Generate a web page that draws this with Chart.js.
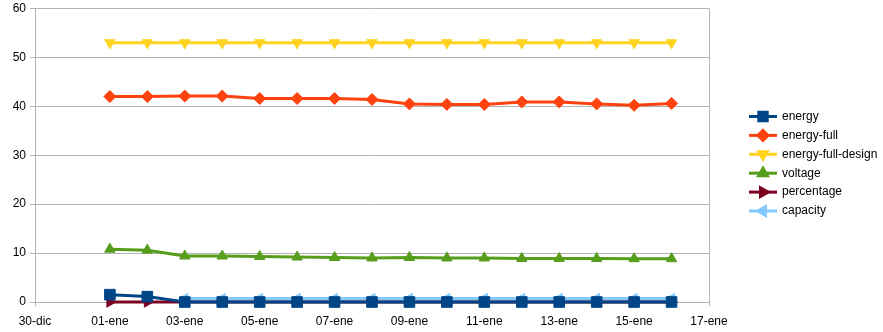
<!DOCTYPE html>
<html>
<head>
<meta charset="utf-8">
<script src="https://cdn.jsdelivr.net/npm/chart.js@4/dist/chart.umd.min.js"></script>
<style>
html,body{margin:0;padding:0;background:#fff;}
#wrap{position:relative;width:883px;height:332px;}
</style>
</head>
<body>
<div id="wrap"><canvas id="c" width="883" height="332"></canvas></div>
<script>
// x positions are day offsets from 30-dic
const tickLabels = ['30-dic','01-ene','03-ene','05-ene','07-ene','09-ene','11-ene','13-ene','15-ene','17-ene'];
const days = [2,3,4,5,6,7,8,9,10,11,12,13,14,15,16,17];
const energy = [1.5,1.1,0,0,0,0,0,0,0,0,0,0,0,0,0,0];
const energyFull = [42.0,42.0,42.1,42.1,41.6,41.6,41.6,41.4,40.5,40.4,40.4,40.9,40.9,40.5,40.2,40.6];
const energyFullDesign = [53,53,53,53,53,53,53,53,53,53,53,53,53,53,53,53];
const voltage = [10.8,10.6,9.4,9.4,9.3,9.2,9.1,9.0,9.1,9.0,9.0,8.9,8.9,8.9,8.85,8.85];
const percentage = [0,0,0,0,0,0,0,0,0,0,0,0,0,0,0,0];
const capacity = [null,null,0.7,0.7,0.7,0.7,0.7,0.7,0.7,0.7,0.7,0.7,0.7,0.7,0.7,0.7];

const seriesNames = ['energy','energy-full','energy-full-design','voltage','percentage','capacity'];
const seriesData = [energy, energyFull, energyFullDesign, voltage, percentage, capacity];
const colors = ['#004586','#ff420e','#ffd320','#579d1c','#7e0021','#83caff'];
const pStyles = ['rect','rectRot','triangle','triangle','triangle','triangle'];
const pRot = [0,0,180,0,90,270];
const pRad = [7.5,6,6,6,6,6];

const datasets = seriesNames.map((n,i)=>({
  label:n,
  data: days.map((d,j)=>({x:d,y:seriesData[i][j]})),
  borderColor:colors[i],
  backgroundColor:colors[i],
  borderWidth:3,
  pointStyle:pStyles[i],
  pointRotation:pRot[i],
  pointRadius:pRad[i],
  pointBorderWidth:1,
  pointHoverRadius:pRad[i],
  tension:0,
  clip:false,
  spanGaps:false
}));

const legendPlugin = {
  id:'customLegend',
  afterDraw(chart){
    const ctx = chart.ctx;
    ctx.save();
    seriesNames.forEach((n,i)=>{
      const y = 116.5 + i*18.9;
      ctx.strokeStyle = colors[i];
      ctx.lineWidth = 3;
      ctx.beginPath(); ctx.moveTo(749,y); ctx.lineTo(777,y); ctx.stroke();
      Chart.helpers.drawPoint(ctx,{pointStyle:pStyles[i],rotation:pRot[i],radius:(i===0?6:5),borderWidth:1},763,y);
      ctx.fillStyle = colors[i];
      ctx.fill();
      ctx.fillStyle = '#000';
      ctx.font = '12px "Liberation Sans", Arial, sans-serif';
      ctx.textBaseline = 'middle';
      ctx.textAlign = 'left';
      ctx.fillText(n,782,y);
    });
    ctx.restore();
  }
};

new Chart(document.getElementById('c'),{
  type:'line',
  data:{datasets},
  plugins:[legendPlugin],
  options:{
    responsive:false,
    animation:false,
    events:[],
    layout:{padding:{top:8,left:0,right:174,bottom:0}},
    plugins:{legend:{display:false},tooltip:{enabled:false}},
    scales:{
      x:{
        type:'linear',min:0,max:18,
        afterBuildTicks(s){ s.ticks = tickLabels.map((t,i)=>({value:i*2})); },
        afterFit(s){ s.height = 30; s.paddingLeft = 0; s.paddingRight = 0; },
        ticks:{
          autoSkip:false,maxRotation:0,padding:8,color:'#000',
          font:{family:'"Liberation Sans", Arial, sans-serif',size:12},
          callback:(v)=>tickLabels[Math.round(v/2)]
        },
        grid:{
          color:(c)=> (c.tick && c.tick.value===18) ? '#b3b3b3' : 'rgba(0,0,0,0)',
          tickColor:'#b3b3b3',
          tickLength:4,
          lineWidth:1
        },
        border:{display:true,color:'#b3b3b3'}
      },
      y:{
        min:0,max:60,
        afterFit(s){ s.width = 35; s.paddingTop = 0; s.paddingBottom = 0; },
        ticks:{
          stepSize:10,padding:4,color:'#000',
          font:{family:'"Liberation Sans", Arial, sans-serif',size:12}
        },
        grid:{color:'#b3b3b3',tickColor:'#b3b3b3',tickLength:5},
        border:{display:true,color:'#b3b3b3'}
      }
    }
  }
});
</script>
</body>
</html>
